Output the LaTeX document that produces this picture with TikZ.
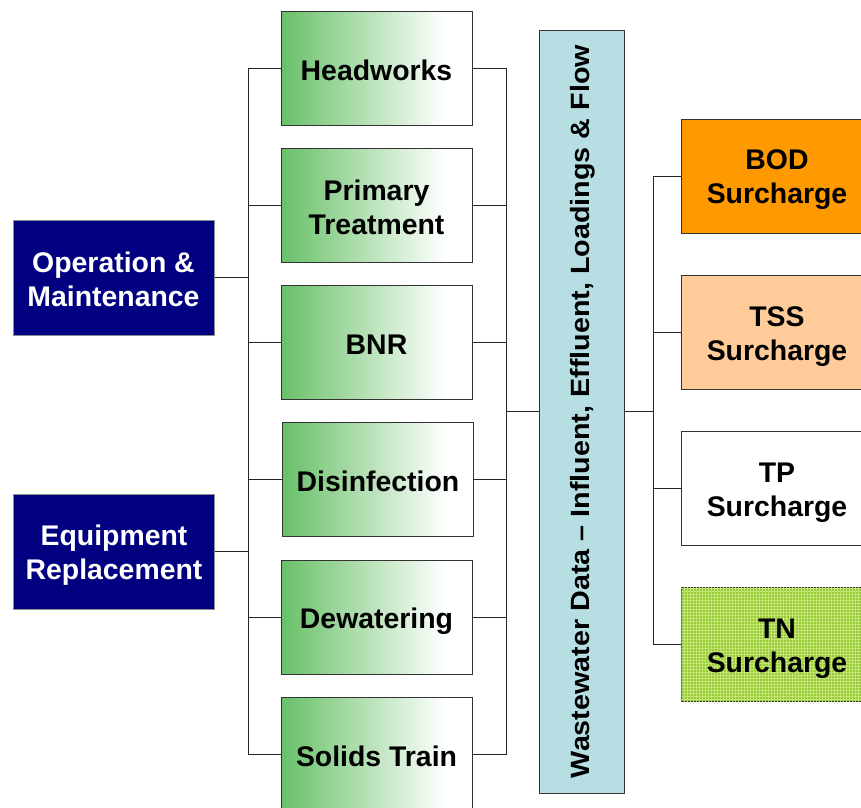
\documentclass[tikz,border=0pt]{standalone}
\usepackage{fontspec}
\setmainfont{Liberation Sans}
\usetikzlibrary{patterns}
\definecolor{navy}{RGB}{0,0,128}
\definecolor{gl}{RGB}{104,192,104}
\definecolor{cenblue}{RGB}{183,222,227}
\definecolor{bodc}{RGB}{255,153,0}
\definecolor{tssc}{RGB}{255,204,153}
\definecolor{tnc}{RGB}{153,204,51}
\definecolor{tnl}{RGB}{195,228,120}
\pgfdeclarehorizontalshading{greenfade}{100bp}{color(0bp)=(gl); color(25bp)=(gl); color(68bp)=(white); color(100bp)=(white)}
\newcommand{\lnst}{\rule[-3.6pt]{0pt}{31.6pt}}
\begin{document}
\begin{tikzpicture}[x=1pt,y=-1pt,
  basebox/.style={draw=black!80, line width=1pt, minimum width=191pt, minimum height=114pt,
    inner sep=0pt, align=center, font=\bfseries\fontsize{28.4}{34}\selectfont},
  navybox/.style={basebox, fill=navy, text=white, draw=black!45, minimum width=201pt, minimum height=115pt},
  greenbox/.style={basebox, shade, shading=greenfade},
  surbox/.style={basebox},
  conn/.style={line width=1pt, draw=black!85}]
\useasboundingbox (0,0) rectangle (861,807);
% left boxes
\node[navybox] (om) at (113.5,277.5) {\lnst Operation \&\\\lnst Maintenance};
\node[navybox] (er) at (114,551.5) {\lnst Equipment\\\lnst Replacement};
% process boxes
\node[greenbox] (hw)  at (376.5,68)  {\lnst Headworks};
\node[greenbox] (pt)  at (376.5,205) {\lnst Primary\\\lnst Treatment};
\node[greenbox] (bnr) at (376.5,342) {\lnst BNR};
\node[greenbox] (dis) at (378,479)   {\lnst Disinfection};
\node[greenbox] (dew) at (376.5,617) {\lnst Dewatering};
\node[greenbox] (st)  at (376.5,754) {\lnst Solids Train};
% central box
\node[basebox, fill=cenblue, minimum width=85pt, minimum height=763pt] (cen) at (581.5,411.5)
  {\hspace*{3pt}\rotatebox{90}{\resizebox{733pt}{0.93\height}{Wastewater Data -- Influent, Effluent, Loadings \& Flow}}};
% surcharge boxes
\node[surbox, fill=bodc] (bod) at (777,176) {\lnst BOD\\\lnst Surcharge};
\node[surbox, fill=tssc] (tss) at (777,332) {\lnst TSS\\\lnst Surcharge};
\node[surbox, fill=white] (tp) at (777,488) {\lnst TP\\\lnst Surcharge};
\node[surbox, fill=tnc, postaction={pattern=grid, pattern color=tnl}] (tn) at (777,644) {\lnst TN\\\lnst Surcharge};
% bus coordinates
\coordinate (L) at (248,0);
\coordinate (R) at (506,0);
\coordinate (S) at (653,0);
% left bus
\draw[conn] (hw.west) -- (hw.west -| L) -- (st.west -| L) -- (st.west);
\foreach \n in {pt,bnr,dis,dew} \draw[conn] (\n.west) -- (\n.west -| L);
\draw[conn] (om.east) -- (om.east -| L);
\draw[conn] (er.east) -- (er.east -| L);
% right bus
\draw[conn] (hw.east) -- (hw.east -| R) -- (st.east -| R) -- (st.east);
\foreach \n in {pt,bnr,dis,dew} \draw[conn] (\n.east) -- (\n.east -| R);
\draw[conn] (cen.west) -- (cen.west -| R);
% surcharge bus
\draw[conn] (bod.west) -- (bod.west -| S) -- (tn.west -| S) -- (tn.west);
\draw[conn] (tss.west) -- (tss.west -| S);
\draw[conn] (tp.west) -- (tp.west -| S);
\draw[conn] (cen.east) -- (cen.east -| S);
\end{tikzpicture}
\end{document}
